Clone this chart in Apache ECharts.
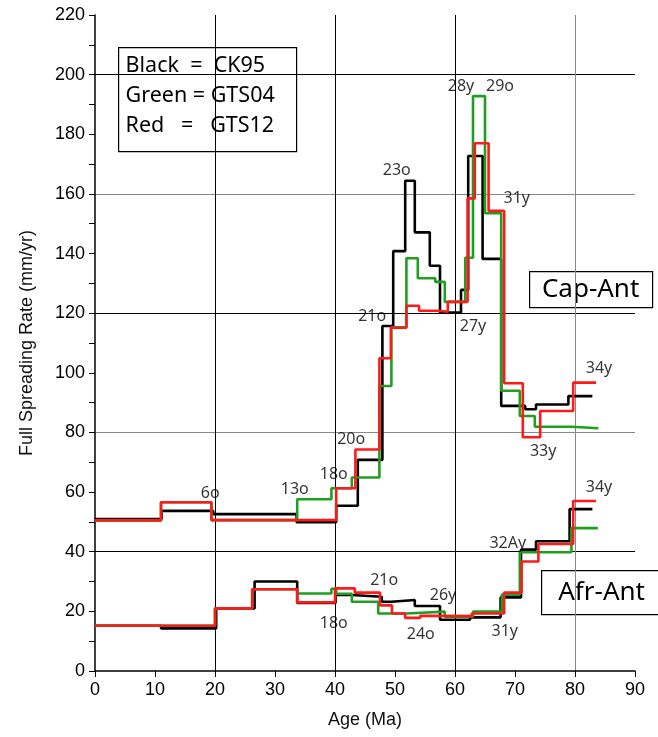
<!DOCTYPE html>
<html>
<head>
<meta charset="utf-8">
<script src="https://cdn.jsdelivr.net/npm/echarts@6/dist/echarts.min.js"></script>
<style>
  html, body { margin: 0; padding: 0; background: #fff; }
  #chart { width: 658px; height: 737px; }
</style>
</head>
<body>
<div id="chart"></div>
<script>
// 阶梯数据：ages 为区段边界，rates 为每段速率（比 ages 少一个）
// Cap-Ant
const capAgesCK95 = [0, 11.1, 19.7, 33.6, 40.2, 43.8, 47.9, 49.7, 51.7, 53.3, 55.8, 57.5, 61.0, 62.2, 64.6, 67.7, 71.7, 73.5, 78.9, 82.9];
const capRatesCK95 = [51, 53.7, 52.6, 49.9, 55.4, 70.8, 115.7, 140.8, 164.4, 147.1, 135.9, 120.2, 127.8, 172.7, 138.2, 88.9, 87.8, 89.4, 92.2];
const capAgesGTS04 = [0, 11, 19.4, 33.7, 39.4, 42.8, 47.4, 49.4, 51.9, 53.8, 56.7, 58.3, 61.7, 63.0, 65.0, 67.7, 70.8, 73.3, 79.4, 83.9];
const capRatesGTS04 = [50.5, 56.6, 50.6, 57.6, 61.3, 64.9, 95.6, 115.3, 138.4, 131.7, 130.5, 123.8, 138.6, 192.8, 153.5, 94.0, 85.5, 81.9, 81.4];
const capAgesGTS12 = [0, 11, 19.4, 40.2, 43.4, 47.4, 49.3, 51.9, 54.0, 57.2, 58.8, 62.1, 63.3, 65.6, 68.2, 71.3, 74.2, 79.7, 83.5];
const capRatesGTS12 = [50.5, 56.6, 50.6, 61.3, 74.3, 104.9, 115.1, 122.5, 120.8, 120.5, 123.8, 158.5, 177.0, 154.3, 96.5, 78.4, 87.2, 96.7];

// Afr-Ant
const afrAgesCK95 = [0, 11, 20.2, 26.6, 33.7, 40.1, 42.8, 47.8, 49.4, 53.3, 57.5, 62.5, 67.6, 71.0, 73.5, 79.1, 82.9];
const afrRatesCK95 = [15.2, 14.3, 21.0, 30.0, 22.8, 25.5, 24.9, 23.2, 23.8, 21.8, 17.2, 18.0, 24.7, 40.7, 43.5, 54.3];
const afrAgesGTS04 = [0, 20, 26.2, 33.7, 39.4, 40.2, 42.8, 47.2, 51.9, 58.3, 63.0, 67.8, 70.8, 79.4, 83.8];
const afrRatesGTS04 = [15.2, 21.0, 27.4, 26.0, 27.6, 25.9, 23.2, 19.3, 19.9, 18.2, 19.9, 25.6, 39.8, 47.9];
const afrAgesGTS12 = [0, 20, 26.2, 33.7, 40.0, 43.3, 47.5, 49.5, 51.7, 54.2, 57.5, 62.8, 68.2, 71.1, 73.9, 79.7, 83.5];
const afrRatesGTS12 = [15.2, 21.0, 27.4, 23.0, 27.7, 26.3, 22.0, 19.3, 17.8, 18.5, 18.4, 19.3, 26.3, 36.7, 42.6, 57.0];

// 磁异常标注
const annoText = ['6o', '13o', '18o', '20o', '21o', '23o', '28y', '29o', '31y', '27y', '33y', '34y', '34y', '32Ay', '21o', '18o', '26y', '24o', '31y'];
const annoAge = [19.2, 33.3, 39.8, 42.7, 46.2, 50.3, 61.0, 67.5, 70.3, 63.0, 74.7, 84.0, 84.0, 68.8, 48.2, 39.8, 58.0, 54.3, 68.3];
const annoRate = [59.7, 61.0, 66.0, 77.5, 119.0, 168.0, 196.2, 196.2, 158.6, 115.4, 73.8, 101.6, 61.7, 42.9, 30.5, 16.1, 25.2, 12.1, 13.4];

const GREEN = '#1f9e1f';
const RED = '#ff1a1a';

function stepData(ages, rates) {
  const d = rates.map((r, i) => [ages[i], r]);
  d.push([ages[ages.length - 1], rates[rates.length - 1]]);
  return d;
}

function stepSeries(ages, rates, color, z) {
  return {
    type: 'line',
    step: 'end',
    data: stepData(ages, rates),
    symbol: 'none',
    lineStyle: { color: color, width: 2.6 },
    z: z,
    animation: false
  };
}

const chart = echarts.init(document.getElementById('chart'));
const FONT = 'Liberation Sans';
const TXT = 'Noto Sans';

chart.setOption({
  animation: false,
  grid: { left: 95, right: 23, top: 15, bottom: 66 },
  xAxis: [{
    type: 'value', min: 0, max: 90, interval: 10,
    name: 'Age (Ma)', nameLocation: 'middle', nameGap: 40,
    nameTextStyle: { fontFamily: FONT, fontSize: 18, color: '#111' },
    axisLine: { lineStyle: { color: '#000', width: 1.5 } },
    axisTick: { length: 6, lineStyle: { color: '#000' } },
    axisLabel: { fontFamily: FONT, fontSize: 18, color: '#000', margin: 10 },
    splitLine: { show: false }
  }, {
    type: 'value', min: 0, max: 90, interval: 20, position: 'bottom',
    axisLine: { show: false }, axisTick: { show: false }, axisLabel: { show: false },
    splitLine: { show: true, showMinLine: false, showMaxLine: false,
      lineStyle: { color: ['#000', '#000', '#000', '#888', '#000'], width: 1 } }
  }],
  yAxis: [{
    type: 'value', min: 0, max: 220, interval: 20,
    name: 'Full Spreading Rate (mm/yr)', nameLocation: 'middle', nameGap: 59,
    nameTextStyle: { fontFamily: FONT, fontSize: 18, color: '#111' },
    axisLine: { show: true, lineStyle: { color: '#000', width: 1.5 } },
    axisTick: { show: true, length: 6, lineStyle: { color: '#000' } },
    minorTick: { show: true, splitNumber: 2, length: 6, lineStyle: { color: '#000' } },
    axisLabel: { fontFamily: FONT, fontSize: 18, color: '#000', margin: 10 },
    splitLine: { show: false }
  }, {
    type: 'value', min: 0, max: 220, interval: 40, position: 'left',
    axisLine: { show: false }, axisTick: { show: false }, axisLabel: { show: false },
    splitLine: { show: true, showMinLine: false, showMaxLine: false,
      lineStyle: { color: ['#000', '#888', '#000', '#888', '#000', '#888'], width: 1 } }
  }],
  series: [
    stepSeries(capAgesCK95, capRatesCK95, '#000', 2),
    stepSeries(afrAgesCK95, afrRatesCK95, '#000', 2),
    stepSeries(capAgesGTS04, capRatesGTS04, GREEN, 3),
    stepSeries(afrAgesGTS04, afrRatesGTS04, GREEN, 3),
    stepSeries(capAgesGTS12, capRatesGTS12, RED, 4),
    stepSeries(afrAgesGTS12, afrRatesGTS12, RED, 4),
    {
      type: 'scatter',
      symbolSize: 0,
      data: annoText.map((t, i) => ({ name: t, value: [annoAge[i], annoRate[i]] })),
      label: {
        show: true, position: 'inside', formatter: '{b}',
        fontFamily: TXT, fontSize: 16, color: '#000'
      },
      z: 5,
      silent: true
    }
  ],
  graphic: [
    {
      type: 'group', left: 118, top: 47, z: 10,
      children: [
        { type: 'rect', shape: { x: 0, y: 0, width: 178, height: 104 },
          style: { fill: '#fff', stroke: '#000', lineWidth: 1.2 } },
        { type: 'text', x: 7, y: 7, style: { text: 'Black  =  CK95', font: '21.5px "Noto Sans"', fill: '#000' } },
        { type: 'text', x: 7, y: 37, style: { text: 'Green = GTS04', font: '21.5px "Noto Sans"', fill: '#000' } },
        { type: 'text', x: 7, y: 67, style: { text: 'Red   =   GTS12', font: '21.5px "Noto Sans"', fill: '#000' } }
      ]
    },
    {
      type: 'group', left: 529, top: 271, z: 10,
      children: [
        { type: 'rect', shape: { x: 0, y: 0, width: 123, height: 36 },
          style: { fill: '#fff', stroke: '#000', lineWidth: 1.2 } },
        { type: 'text', x: 61, y: 18, style: { text: 'Cap-Ant', font: '26px "Noto Sans"', fill: '#000', align: 'center', verticalAlign: 'middle' } }
      ]
    },
    {
      type: 'group', left: 541, top: 570, z: 10,
      children: [
        { type: 'rect', shape: { x: 0, y: 0, width: 119, height: 44 },
          style: { fill: '#fff', stroke: '#000', lineWidth: 1.2 } },
        { type: 'text', x: 60, y: 22, style: { text: 'Afr-Ant', font: '26px "Noto Sans"', fill: '#000', align: 'center', verticalAlign: 'middle' } }
      ]
    }
  ]
});
</script>
</body>
</html>
